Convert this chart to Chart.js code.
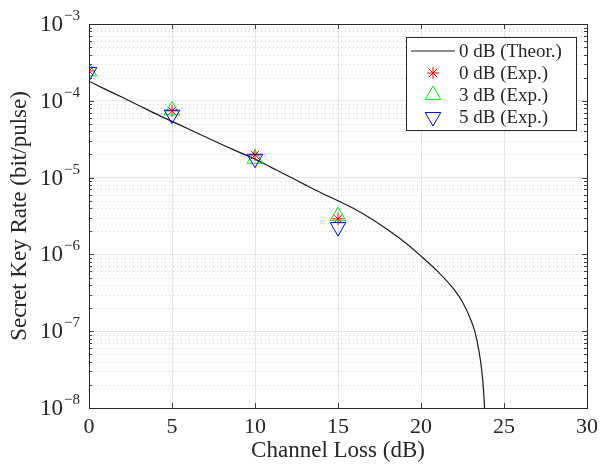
<!DOCTYPE html>
<html>
<head>
<meta charset="utf-8">
<title>Secret Key Rate vs Channel Loss</title>
<script src="https://cdn.jsdelivr.net/npm/chart.js@4"></script>
<style>
  html, body { margin: 0; padding: 0; background: #fff; }
  #wrap { width: 604px; height: 466px; position: relative; }
</style>
</head>
<body>
<div id="wrap"><canvas id="keyChart"></canvas></div>
<script>
// Theoretical curve (0 dB)
const lossTheor = [0, 1, 2, 3, 4, 5, 6, 7, 8, 9, 10, 11, 12, 13, 14, 15, 16, 17, 18, 19, 20,
  21, 22, 22.5, 23, 23.25, 23.5, 23.65, 23.75, 23.82, 23.86];
const rateTheor = [1.8e-4, 1.41e-4, 1.11e-4, 8.7e-5, 6.8e-5, 5.4e-5, 4.3e-5, 3.4e-5, 2.7e-5, 2.16e-5,
  1.74e-5, 1.35e-5, 1.05e-5, 8.1e-6, 6.3e-6, 5.0e-6, 3.9e-6, 2.92e-6, 2.09e-6, 1.45e-6, 9.5e-7,
  6.0e-7, 3.47e-7, 2.4e-7, 1.41e-7, 9.8e-8, 5.4e-8, 3.2e-8, 1.9e-8, 1.1e-8, 7e-9];

// Experimental points
const lossExp = [0, 5, 10, 15];
const rate0dB = [2.45e-4, 7.4e-5, 1.97e-5, 2.9e-6];
const rate3dB = [2.41e-4, 7.5e-5, 1.76e-5, 3.15e-6];
const rate5dB = [2.37e-4, 6.6e-5, 1.76e-5, 2.27e-6];

const xTicks = [0, 5, 10, 15, 20, 25, 30];
const yDecades = [-8, -7, -6, -5, -4, -3];

const serif = "'Liberation Serif', 'DejaVu Serif', serif";

function isDecade(v) {
    const l = Math.log10(v);
    return Math.abs(l - Math.round(l)) < 1e-6;
}

// Draws minor dotted grid, inward ticks, box, y labels and legend
const matlabLook = {
    id: 'matlabLook',
    beforeDraw(chart) {
        const ctx = chart.ctx;
        ctx.save();
        ctx.fillStyle = '#fff';
        ctx.fillRect(0, 0, chart.width, chart.height);
        ctx.restore();
    },
    beforeDatasetsDraw(chart) {
        const { ctx, chartArea: a, scales: { y } } = chart;
        ctx.save();
        ctx.strokeStyle = '#d0d0d0';
        ctx.lineWidth = 1;
        ctx.setLineDash([1, 3]);
        y.ticks.forEach(t => {
            if (isDecade(t.value)) return;
            const py = Math.round(y.getPixelForValue(t.value)) + 0.5;
            ctx.beginPath();
            ctx.moveTo(a.left, py);
            ctx.lineTo(a.right, py);
            ctx.stroke();
        });
        ctx.restore();
    },
    afterDraw(chart) {
        const { ctx, chartArea: a, scales: { x, y } } = chart;
        ctx.save();
        ctx.strokeStyle = '#404040';
        ctx.lineWidth = 1;
        // inward ticks
        ctx.beginPath();
        xTicks.forEach(v => {
            const px = Math.round(x.getPixelForValue(v)) + 0.5;
            ctx.moveTo(px, a.bottom); ctx.lineTo(px, a.bottom - 5);
            ctx.moveTo(px, a.top); ctx.lineTo(px, a.top + 5);
        });
        y.ticks.forEach(t => {
            const py = Math.round(y.getPixelForValue(t.value)) + 0.5;
            const len = isDecade(t.value) ? 5 : 3;
            ctx.moveTo(a.left, py); ctx.lineTo(a.left + len, py);
            ctx.moveTo(a.right, py); ctx.lineTo(a.right - len, py);
        });
        ctx.stroke();
        // box
        ctx.strokeStyle = '#262626';
        ctx.strokeRect(Math.round(a.left) + 0.5, Math.round(a.top) + 0.5,
            Math.round(a.right - a.left), Math.round(a.bottom - a.top));

        // y tick labels 10^k
        ctx.fillStyle = '#262626';
        ctx.textBaseline = 'middle';
        const rightEdge = a.left - 9;
        yDecades.forEach(k => {
            const py = y.getPixelForValue(Math.pow(10, k));
            const exp = '\u2212' + Math.abs(k);
            ctx.font = '15px ' + serif;
            const ew = ctx.measureText(exp).width;
            ctx.textAlign = 'left';
            ctx.fillText(exp, rightEdge - ew, py - 8);
            ctx.font = '23px ' + serif;
            ctx.textAlign = 'right';
            ctx.fillText('10', rightEdge - ew - 1, py + 1);
        });

        // legend box
        const lx = 406, ly = 37, lw = 170, lh = 93;
        ctx.fillStyle = '#fff';
        ctx.fillRect(lx, ly, lw, lh);
        ctx.strokeStyle = '#262626';
        ctx.strokeRect(lx + 0.5, ly + 0.5, lw, lh);
        const rows = [51, 73, 95, 117];
        chart.data.datasets.forEach((ds, i) => {
            const ry = rows[i];
            const mx = 433;
            ctx.strokeStyle = ds.borderColor;
            ctx.lineWidth = ds.borderWidth || 1;
            if (ds.pointRadius === 0) {
                ctx.beginPath();
                ctx.moveTo(411, ry); ctx.lineTo(455, ry);
                ctx.stroke();
            } else {
                ctx.fillStyle = 'rgba(0,0,0,0)';
                ctx.lineWidth = 1;
                Chart.helpers.drawPoint(ctx, {
                    pointStyle: ds.pointStyle,
                    rotation: ds.rotation || 0,
                    radius: ds.pointRadius,
                    borderWidth: 1
                }, mx, ry);
            }
            ctx.fillStyle = '#262626';
            ctx.font = '19px ' + serif;
            ctx.textAlign = 'left';
            ctx.textBaseline = 'middle';
            ctx.fillText(ds.label, 459, ry + 1);
        });
        ctx.restore();
    }
};

const ctx = document.getElementById('keyChart').getContext('2d');
window.myChart = new Chart(ctx, {
    type: 'scatter',
    data: {
        datasets: [{
            label: '0 dB (Theor.)',
            data: lossTheor.map((v, i) => ({ x: v, y: rateTheor[i] })),
            showLine: true,
            borderColor: '#1a1a1a',
            borderWidth: 1.2,
            pointRadius: 0,
            cubicInterpolationMode: 'monotone',
            order: 3
        }, {
            label: '0 dB (Exp.)',
            data: lossExp.map((v, i) => ({ x: v, y: rate0dB[i] })),
            pointStyle: 'star',
            pointRadius: 6,
            borderColor: '#ff0000',
            backgroundColor: 'rgba(0,0,0,0)',
            pointBorderWidth: 1,
            order: 2
        }, {
            label: '3 dB (Exp.)',
            data: lossExp.map((v, i) => ({ x: v, y: rate3dB[i] })),
            pointStyle: 'triangle',
            pointRadius: 9,
            borderColor: '#00ee00',
            backgroundColor: 'rgba(0,0,0,0)',
            pointBorderWidth: 1,
            order: 1
        }, {
            label: '5 dB (Exp.)',
            data: lossExp.map((v, i) => ({ x: v, y: rate5dB[i] })),
            pointStyle: 'triangle',
            rotation: 180,
            pointRotation: 180,
            pointRadius: 9,
            borderColor: '#0000ff',
            backgroundColor: 'rgba(0,0,0,0)',
            pointBorderWidth: 1,
            order: 0
        }]
    },
    options: {
        responsive: true,
        maintainAspectRatio: false,
        animation: false,
        events: [],
        layout: { padding: { top: 24, right: 15, left: 0, bottom: 0 } },
        plugins: { legend: { display: false }, tooltip: { enabled: false } },
        scales: {
            x: {
                type: 'linear',
                min: 0,
                max: 30,
                afterBuildTicks: s => { s.ticks = xTicks.map(v => ({ value: v })); },
                afterFit: s => { s.height = 58; },
                grid: { color: '#e6e6e6', lineWidth: 1, drawTicks: false },
                border: { display: false },
                ticks: {
                    color: '#262626',
                    padding: 6,
                    maxRotation: 0,
                    font: { family: serif, size: 22 }
                },
                title: {
                    display: true,
                    text: 'Channel Loss (dB)',
                    color: '#262626',
                    padding: { top: 0, bottom: 1 },
                    font: { family: serif, size: 23 }
                }
            },
            y: {
                type: 'logarithmic',
                min: 1e-8,
                max: 1e-3,
                afterBuildTicks: s => {
                    const t = [];
                    for (let k = -8; k < -3; k++) {
                        for (let m = 1; m <= 9; m++) t.push({ value: m * Math.pow(10, k) });
                    }
                    t.push({ value: 1e-3 });
                    s.ticks = t;
                },
                afterFit: s => { s.width = 89; },
                grid: {
                    color: c => (c.tick && isDecade(c.tick.value)) ? '#e6e6e6' : 'rgba(0,0,0,0)',
                    lineWidth: 1,
                    drawTicks: false
                },
                border: { display: false },
                ticks: { display: false },
                title: {
                    display: true,
                    text: 'Secret Key Rate (bit/pulse)',
                    color: '#262626',
                    padding: { top: 6, bottom: 0 },
                    font: { family: serif, size: 23 }
                }
            }
        }
    },
    plugins: [matlabLook]
});
</script>
</body>
</html>
